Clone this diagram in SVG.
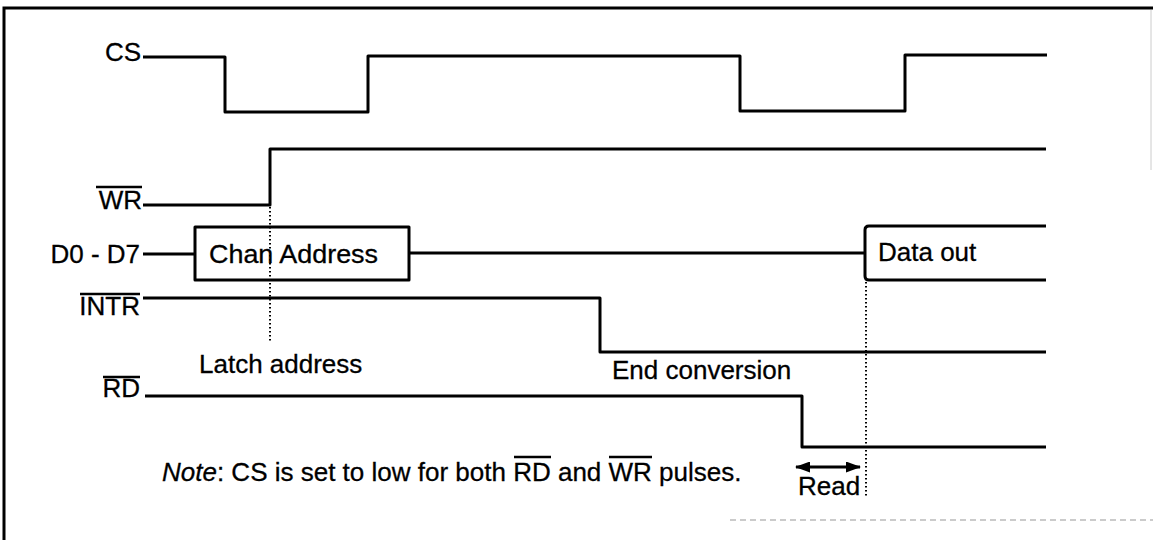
<svg xmlns="http://www.w3.org/2000/svg" width="1153" height="540" viewBox="0 0 1153 540">
<defs>
<style>
.sig{fill:none;stroke:#000;stroke-width:3;stroke-linejoin:round}
.dot{fill:none;stroke:#000;stroke-width:2;stroke-dasharray:1.5 2.5}
.lbl{font-family:"Liberation Sans",Arial,sans-serif;font-size:26px;fill:#000;stroke:#000;stroke-width:0.3}
.ovl{stroke:#000;stroke-width:2.5}
</style>
<marker id="ah" viewBox="0 0 15 11" refX="14" refY="5.5" markerWidth="15" markerHeight="11" orient="auto-start-reverse" markerUnits="userSpaceOnUse">
<path d="M0,0 L15,5.5 L0,11 Z" fill="#000"/>
</marker>
</defs>
<rect width="1153" height="540" fill="#fff"/>
<g id="frame">
<path d="M4,540 V8 H1153" fill="none" stroke="#000" stroke-width="3"/>
<path d="M1151,10 V170" fill="none" stroke="#ccc" stroke-width="1"/>
<path d="M730,520 H1153" fill="none" stroke="#bbb" stroke-width="1.5" stroke-dasharray="6 4"/>
</g>
<g id="CS">
<text class="lbl" x="141" y="61" text-anchor="end">CS</text>
<path class="sig" d="M143,57 H225 V112 H368 V56 H740 V111 H905 V55 H1047"/>
</g>
<g id="WR">
<text class="lbl" x="142" y="209" text-anchor="end">WR</text>
<line class="ovl" x1="96" y1="187" x2="142" y2="187"/>
<path class="sig" d="M143,205 H270 V149 H1046"/>
</g>
<g id="D0D7">
<text class="lbl" x="140" y="263" text-anchor="end">D0 - D7</text>
<path class="sig" d="M143,254 H195"/>
<rect class="sig" x="195" y="227" width="214" height="53"/>
<text class="lbl" x="209" y="263" textLength="169" lengthAdjust="spacingAndGlyphs">Chan Address</text>
<path class="sig" d="M409,253 H865"/>
<path class="sig" d="M1046,226 H869 Q865,226 865,230 V276 Q865,280 869,280 H1046"/>
<text class="lbl" x="878" y="261">Data out</text>
</g>
<g id="INTR">
<text class="lbl" x="140" y="315" text-anchor="end">INTR</text>
<line class="ovl" x1="80" y1="294" x2="140" y2="294"/>
<path class="sig" d="M143,298 H600 V352 H1046"/>
</g>
<g id="RD">
<text class="lbl" x="140" y="397" text-anchor="end">RD</text>
<line class="ovl" x1="103" y1="377" x2="140" y2="377"/>
<path class="sig" d="M145,396 H802 V447 H1046"/>
</g>
<g id="connectors">
<path class="dot" d="M270,207 V342"/>
<path class="dot" d="M866,282 V496"/>
<path d="M796,467 H860" fill="none" stroke="#000" stroke-width="3" marker-start="url(#ah)" marker-end="url(#ah)"/>
</g>
<g id="labels">
<text class="lbl" x="199" y="373">Latch address</text>
<text class="lbl" x="612" y="379">End conversion</text>
<text class="lbl" x="798" y="495">Read</text>
<text class="lbl" x="162" y="481"><tspan font-style="italic">Note</tspan>: CS is set to low for both RD and WR pulses.</text>
<line class="ovl" x1="514" y1="457" x2="551" y2="457"/>
<line class="ovl" x1="609" y1="457" x2="652" y2="457"/>
</g>
</svg>
